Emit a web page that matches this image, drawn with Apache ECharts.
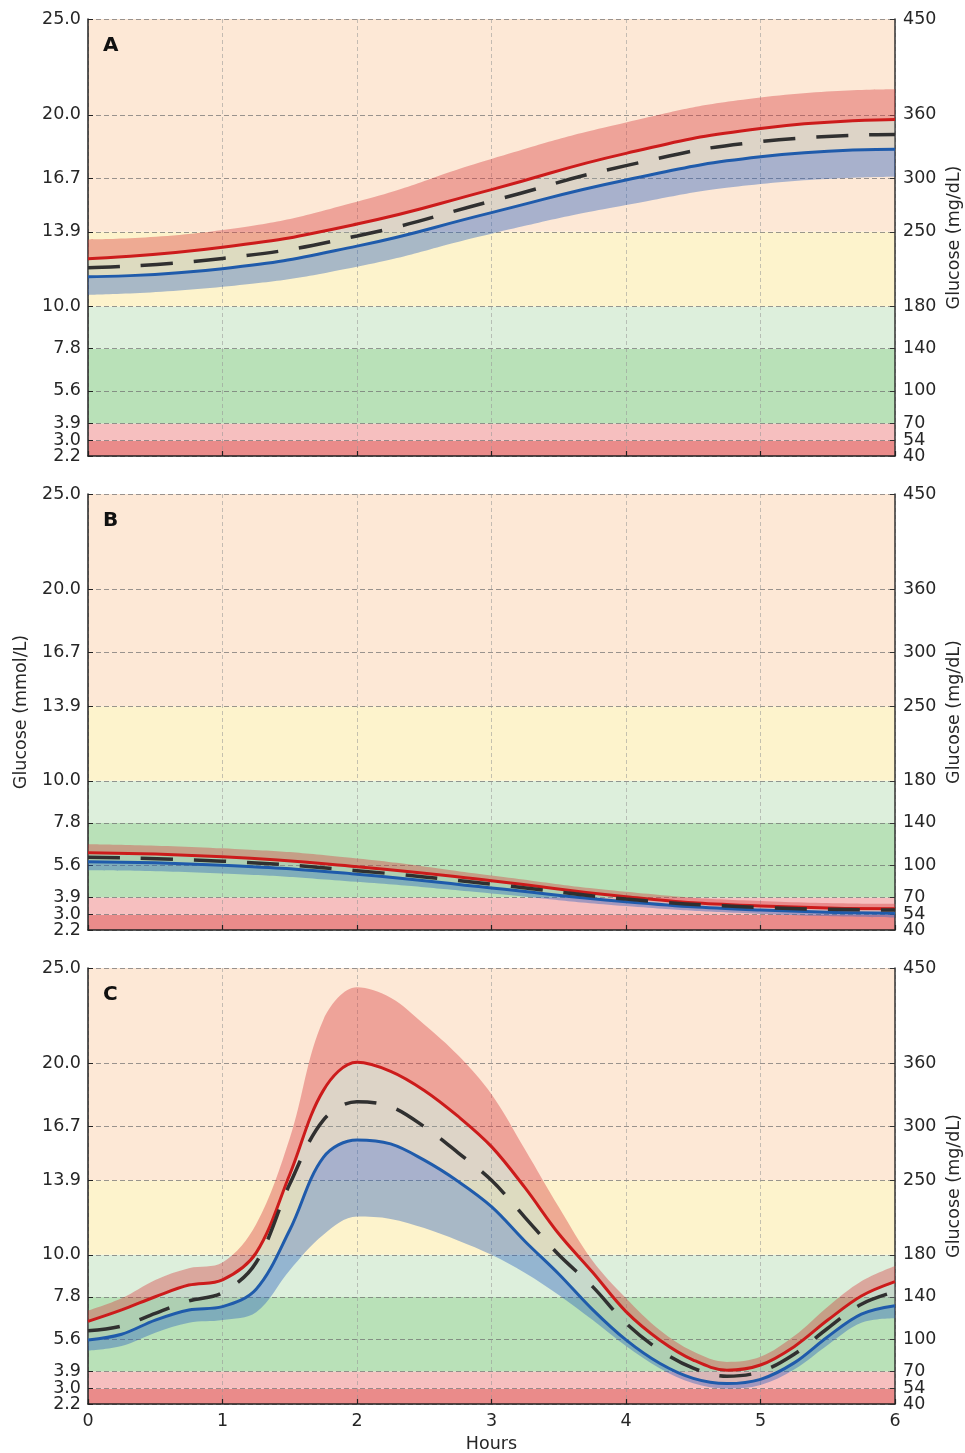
<!DOCTYPE html>
<html><head><meta charset="utf-8">
<script src="https://cdn.jsdelivr.net/npm/echarts@6/dist/echarts.min.js"></script>
<style>html,body{margin:0;padding:0;background:#fff}#c{width:965px;height:1453px}</style>
</head><body><div id="c"></div>
<script>
// ---- axis ticks & zones ----
const mmolTicks = [2.2, 3.0, 3.9, 5.6, 7.8, 10.0, 13.9, 16.7, 20.0, 25.0];
const mgdlTicks = ['40', '54', '70', '100', '140', '180', '250', '300', '360', '450'];
const zoneBounds = [2.2, 3.0, 3.9, 7.8, 10.0, 13.9, 25.0];
const zoneColors = ['#ea8b8a', '#f6bfbf', '#b9e1b8', '#ddefdc', '#fdf3cc', '#fde8d6'];
const panelLabels = ['A', 'B', 'C'];

// ---- Panel A ----
const hoursA = ['0', '1', '2', '3', '4', '5', '6'];
const topA   = [13.50, 13.99, 15.47, 17.70, 19.60, 20.90, 21.33];
const redA   = [12.49, 13.09, 14.30, 16.10, 17.99, 19.29, 19.76];
const meanA  = [12.02, 12.51, 13.68, 15.50, 17.35, 18.60, 18.98];
const blueA  = [11.55, 11.97, 13.15, 14.90, 16.60, 17.81, 18.21];
const lowerA = [10.61, 11.03, 12.08, 13.80, 15.29, 16.39, 16.77];

// ---- Panel B ----
const hoursB = ['0', '1', '2', '3', '4', '5', '6'];
const topB   = [6.69, 6.47, 5.94, 5.05, 4.20, 3.71, 3.56];
const redB   = [6.24, 6.03, 5.51, 4.78, 3.94, 3.45, 3.31];
const meanB  = [6.00, 5.80, 5.30, 4.60, 3.82, 3.38, 3.24];
const blueB  = [5.77, 5.59, 5.12, 4.40, 3.68, 3.24, 3.07];
const lowerB = [5.33, 5.16, 4.72, 4.11, 3.45, 3.04, 2.86];

// ---- Panel C (quarter-hour readings) ----
const hoursC = ['0', '0.25', '0.5', '0.75', '1', '1.25', '1.5', '1.75', '2', '2.25', '2.5', '2.75', '3', '3.25', '3.5', '3.75', '4', '4.25', '4.5', '4.75', '5', '5.25', '5.5', '5.75', '6'];
const topC   = [7.08, 7.73, 8.69, 9.30, 9.60, 11.6, 16.1, 22.3, 23.99, 23.45, 22.05, 20.45, 18.4, 15.5, 12.5, 9.7, 7.73, 6.07, 4.94, 4.40, 4.67, 5.75, 7.29, 8.62, 9.42];
const redC   = [6.52, 7.12, 7.81, 8.42, 8.69, 10.1, 14.2, 18.6, 20.07, 19.6, 18.6, 17.25, 15.66, 13.5, 11.1, 9.1, 7.03, 5.55, 4.50, 3.97, 4.24, 5.20, 6.59, 7.85, 8.60];
const meanC  = [6.03, 6.28, 6.94, 7.59, 8.02, 9.6, 13.7, 17.05, 18.01, 17.75, 16.7, 15.35, 13.9, 11.95, 10.0, 8.35, 6.42, 5.02, 4.07, 3.65, 3.89, 4.80, 6.16, 7.42, 8.07];
const blueC  = [5.55, 5.85, 6.59, 7.12, 7.29, 8.2, 11.3, 15.1, 16.01, 15.8, 14.95, 13.85, 12.52, 10.7, 9.0, 7.15, 5.55, 4.33, 3.54, 3.27, 3.49, 4.35, 5.72, 6.90, 7.34];
const lowerC = [4.99, 5.23, 5.93, 6.45, 6.59, 7.0, 9.2, 11.05, 12.0, 11.88, 11.4, 10.75, 10.0, 9.05, 7.9, 6.6, 5.23, 4.07, 3.28, 3.00, 3.19, 4.00, 5.29, 6.45, 6.68];

const panels = [
  {x: hoursA, top: topA, red: redA, mean: meanA, blue: blueA, lower: lowerA},
  {x: hoursB, top: topB, red: redB, mean: meanB, blue: blueB, lower: lowerB},
  {x: hoursC, top: topC, red: redC, mean: meanC, blue: blueC, lower: lowerC}
];

const FONT = 'DejaVu Sans';
const TXT = '#262626';
const FS = 17.5;
const gridTops = [19, 494, 968];
const gridHeights = [437, 436, 436];
const SMOOTH = [0.5, 0.5, 0.35];

const grids = [], xAxes = [], yAxes = [], series = [], titles = [];
const diff = (a, b) => a.map((v, i) => +(v - b[i]).toFixed(3));
const isWhole = (c) => Number(c) === Math.round(Number(c));
const evenTicks = mmolTicks.filter((v, k) => k % 2 === 0);
const oddTicks = mmolTicks.filter((v, k) => k % 2 === 1);
const mgFor = v => {
  let k = 0, best = 1e9;
  mmolTicks.forEach((t, j) => { if (Math.abs(t - v) < best) { best = Math.abs(t - v); k = j; } });
  return mgdlTicks[k];
};

panels.forEach((p, i) => {
  grids.push({left: 88, right: 70, top: gridTops[i], height: gridHeights[i], containLabel: false, outerBoundsMode: 'none'});
  titles.push({text: panelLabels[i], left: 103, top: gridTops[i] + 17, padding: 0,
    textStyle: {fontFamily: FONT, fontSize: 20, fontWeight: 'bold', color: '#111'}});
  const last = i === 2;
  const every = (idx, val) => isWhole(val);
  xAxes.push({
    type: 'category', gridIndex: i, data: p.x, boundaryGap: false,
    name: last ? 'Hours' : '', nameLocation: 'middle', nameGap: 31,
    nameTextStyle: {fontFamily: FONT, fontSize: FS, color: TXT},
    axisLine: {show: true, lineStyle: {color: '#222', width: 1.5}},
    axisTick: {show: true, inside: true, length: 5, interval: every, lineStyle: {color: '#222', width: 1.2}},
    axisLabel: {show: last, interval: every, fontFamily: FONT, fontSize: FS, color: TXT, margin: 8},
    splitLine: {show: true, interval: every, lineStyle: {color: 'rgba(150,150,150,0.55)', width: 1, type: [4, 3]}}
  });
  yAxes.push({
    type: 'value', gridIndex: i, position: 'left', min: 2.2, max: 25,
    name: i === 1 ? 'Glucose (mmol/L)' : '', nameLocation: 'middle', nameRotate: 90, nameGap: 58,
    nameTextStyle: {fontFamily: FONT, fontSize: FS, color: TXT},
    axisLine: {show: true, lineStyle: {color: '#222', width: 1.5}},
    axisTick: {show: true, inside: true, length: 5, customValues: mmolTicks, lineStyle: {color: '#222'}},
    axisLabel: {show: false, customValues: mmolTicks},
    splitLine: {show: true, lineStyle: {color: 'rgba(110,110,110,0.7)', width: 1.1, type: [5, 3]}}
  });
  [evenTicks, oddTicks].forEach(set => yAxes.push({
    type: 'value', gridIndex: i, position: 'left', min: 2.2, max: 25,
    axisLine: {show: false}, axisTick: {show: false}, splitLine: {show: false},
    axisLabel: {customValues: set, showMinLabel: true, showMaxLabel: true, hideOverlap: false,
      fontFamily: FONT, fontSize: FS, color: TXT, margin: 7, formatter: v => v.toFixed(1)}
  }));
  yAxes.push({
    type: 'value', gridIndex: i, position: 'right', min: 2.2, max: 25,
    name: 'Glucose (mg/dL)', nameLocation: 'middle', nameRotate: 90, nameGap: 50,
    nameTextStyle: {fontFamily: FONT, fontSize: FS, color: TXT},
    axisLine: {show: true, lineStyle: {color: '#333', width: 1.5}},
    axisTick: {show: true, inside: true, length: 5, customValues: mmolTicks, lineStyle: {color: '#333'}},
    axisLabel: {show: false, customValues: mmolTicks},
    splitLine: {show: false}
  });
  [evenTicks, oddTicks].forEach(set => yAxes.push({
    type: 'value', gridIndex: i, position: 'right', min: 2.2, max: 25,
    axisLine: {show: false}, axisTick: {show: false}, splitLine: {show: false},
    axisLabel: {customValues: set, showMinLabel: true, showMaxLabel: true, hideOverlap: false,
      fontFamily: FONT, fontSize: FS, color: TXT, margin: 8, formatter: mgFor}
  }));
  const xi = i, yi = i * 6;
  const common = {type: 'line', xAxisIndex: xi, yAxisIndex: yi, symbol: 'none', smooth: SMOOTH[i], silent: true};
  series.push(Object.assign({}, common, {
    data: p.lower, lineStyle: {opacity: 0}, z: 1,
    markArea: {silent: true, z: -1,
      data: zoneColors.map((c, k) => [{yAxis: zoneBounds[k], itemStyle: {color: c}}, {yAxis: zoneBounds[k + 1]}])}
  }));
  const st = 'band' + i;
  series.push(Object.assign({}, common, {stack: st, data: p.lower, lineStyle: {opacity: 0}, z: 2}));
  series.push(Object.assign({}, common, {stack: st, data: diff(p.blue, p.lower), lineStyle: {opacity: 0}, z: 2,
    areaStyle: {color: 'rgba(40,95,190,0.40)', opacity: 1}}));
  series.push(Object.assign({}, common, {stack: st, data: diff(p.red, p.blue), lineStyle: {opacity: 0}, z: 2,
    areaStyle: {color: 'rgba(150,165,165,0.30)', opacity: 1}}));
  series.push(Object.assign({}, common, {stack: st, data: diff(p.top, p.red), lineStyle: {opacity: 0}, z: 2,
    areaStyle: {color: 'rgba(215,60,62,0.40)', opacity: 1}}));
  series.push(Object.assign({}, common, {data: p.red, z: 4, lineStyle: {color: '#cc1b1b', width: 3}}));
  series.push(Object.assign({}, common, {data: p.blue, z: 4, lineStyle: {color: '#1f5bab', width: 3}}));
  series.push(Object.assign({}, common, {data: p.mean, z: 5, lineStyle: {color: '#303030', width: 3.5, type: [32, 21]}}));
});

const chart = echarts.init(document.getElementById('c'), null, {renderer: 'canvas'});
chart.setOption({
  animation: false,
  backgroundColor: '#ffffff',
  title: titles,
  grid: grids,
  xAxis: xAxes,
  yAxis: yAxes,
  series: series
});
</script>
</body></html>
